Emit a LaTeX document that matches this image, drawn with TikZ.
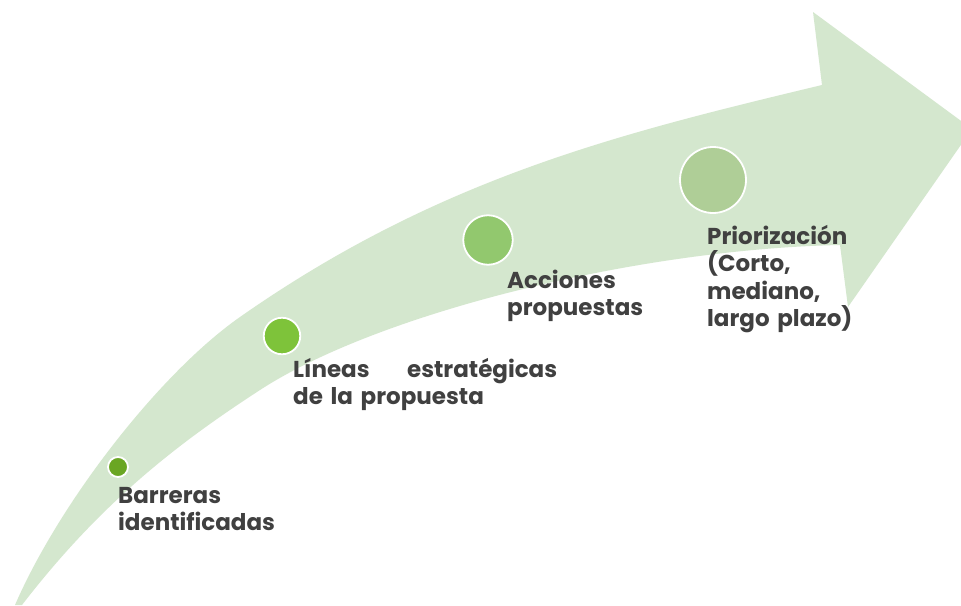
\documentclass[tikz,border=0pt]{standalone}
\usepackage{fontspec}
\setmainfont{Poppins}
\definecolor{arrowgreen}{RGB}{212,231,206}
\definecolor{cone}{RGB}{106,166,35}
\definecolor{ctwo}{RGB}{126,195,58}
\definecolor{cthree}{RGB}{146,200,110}
\definecolor{cfour}{RGB}{175,206,151}
\definecolor{txtgray}{RGB}{64,64,64}
\begin{document}
\begin{tikzpicture}[x=1pt,y=-1pt,
  dot/.style={circle, draw=white, line width=1.8pt, inner sep=0pt},
  lbl/.style={anchor=base west, inner sep=0pt, align=left, text=txtgray,
    font=\fontsize{23}{27.5}\selectfont\bfseries}]
\useasboundingbox (0,0) rectangle (961,605);
\fill[white] (0,0) rectangle (961,605);
\begin{scope}
\clip (0,0) rectangle (961,605);
\fill[arrowgreen]
  (15,605) .. controls (60,501.5) and (160,373) .. (240,317)
  .. controls (440,177) and (622,133) .. (822,85)
  -- (813,12) -- (972,129) -- (848,307) -- (840,245)
  .. controls (640,249) and (380,312) .. (260,390)
  .. controls (180,442) and (102,501) .. (22,605)
  -- cycle;
\end{scope}
\node[dot, fill=cone, minimum size=20pt] (d1) at (118,467) {};
\node[dot, fill=ctwo, minimum size=36.5pt] (d2) at (282,336) {};
\node[dot, fill=cthree, minimum size=49.5pt] (d3) at (488,240) {};
\node[dot, fill=cfour, minimum size=66pt] (d4) at (713,180) {};
\node[lbl, text width=170pt] (t1) at (118,503) {Barreras\\identificadas};
\node[lbl, text width=264pt] (t2) at (293,377) {Líneas\hfill estratégicas\\de la propuesta};
\node[lbl, text width=150pt] (t3) at (507,288) {Acciones\\propuestas};
\node[lbl, text width=170pt] (t4) at (707,244) {Priorización\\(Corto,\\mediano,\\largo plazo)};
\end{tikzpicture}
\end{document}
